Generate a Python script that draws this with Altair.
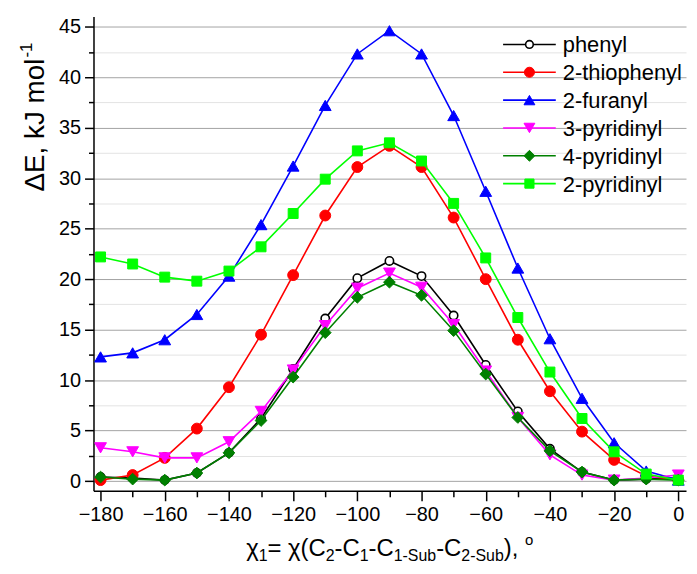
import altair as alt
import pandas as pd

# ---------------- data ----------------
angles = list(range(-180, 1, 10))
phenyl = [0.4, 0.3, 0.1, 0.8, 2.8, 6.2, 11.1, 16.1, 20.1, 21.8, 20.3, 16.4, 11.5, 6.9, 3.2, 0.9, 0.1, 0.2, 0.3]
thiophenyl = [0.1, 0.6, 2.3, 5.2, 9.3, 14.5, 20.4, 26.3, 31.1, 33.2, 31.1, 26.1, 20.0, 14.0, 8.9, 4.9, 2.1, 0.5, 0.1]
furanyl = [12.3, 12.7, 14.0, 16.5, 20.3, 25.4, 31.2, 37.2, 42.3, 44.6, 42.3, 36.2, 28.7, 21.1, 14.1, 8.2, 3.8, 1.0, 0.1]
pyridinyl3 = [3.3, 2.9, 2.3, 2.3, 3.9, 6.9, 11.0, 15.4, 19.1, 20.6, 19.2, 15.5, 10.9, 6.3, 2.6, 0.6, 0.1, 0.3, 0.6]
pyridinyl4 = [0.4, 0.2, 0.1, 0.8, 2.8, 6.0, 10.3, 14.7, 18.2, 19.7, 18.4, 14.9, 10.6, 6.3, 3.0, 0.9, 0.1, 0.2, 0.1]
pyridinyl2 = [22.2, 21.5, 20.2, 19.8, 20.8, 23.2, 26.5, 29.9, 32.7, 33.5, 31.7, 27.5, 22.1, 16.2, 10.8, 6.2, 2.9, 0.7, 0.1]

names = ["phenyl", "2-thiophenyl", "2-furanyl", "3-pyridinyl", "4-pyridinyl", "2-pyridinyl"]
values = [phenyl, thiophenyl, furanyl, pyridinyl3, pyridinyl4, pyridinyl2]
colors = ["#000000", "#ff0000", "#0000ff", "#ff00ff", "#008000", "#00ff00"]
fills = ["#ffffff", "#ff0000", "#0000ff", "#ff00ff", "#008000", "#00ff00"]
shapes = ["circle", "circle", "triangle-up", "triangle-down", "diamond", "square"]
sizes = [70, 120, 140, 140, 140, 100]

x_major = list(range(-180, 1, 20))
x_minor = list(range(-170, 1, 20))
y_major = list(range(0, 46, 5))
y_minor = [2.5 + 5 * i for i in range(9)]

FONT = "Liberation Sans"
W, H = 596, 477

xs = alt.Scale(domain=[-182.2, 2.4], nice=False, zero=False)
ys = alt.Scale(domain=[-0.96, 46.0], nice=False, zero=False)

ax_x_major = alt.Axis(values=x_major, orient="bottom", labelFontSize=20, labelFont=FONT,
                      labelColor="black", tickSize=10, tickWidth=1.5, tickColor="black",
                      domainColor="black", domainWidth=1.5, grid=False, title=None,
                      labelPadding=4, labelFlush=False, labelOverlap=False)
ax_x_minor = alt.Axis(values=x_minor, orient="bottom", labels=False, tickSize=6,
                      tickWidth=1.5, tickColor="black", domain=False, grid=False, title=None)
ax_y_major = alt.Axis(values=y_major, orient="left", labelFontSize=20, labelFont=FONT,
                      labelColor="black", tickSize=9, tickWidth=1.5, tickColor="black",
                      domainColor="black", domainWidth=1.5, grid=True, gridColor="#a3a3a3",
                      gridWidth=1, title=None, labelPadding=4, labelFlush=False,
                      labelOverlap=False)
ax_y_minor = alt.Axis(values=y_minor, orient="left", labels=False, tickSize=5,
                      tickWidth=1.5, tickColor="black", domain=False, grid=True,
                      gridColor="#e3e3e3", gridWidth=1, title=None)

layers = []
for i, (nm, vals, c, f, shp, sz) in enumerate(zip(names, values, colors, fills, shapes, sizes)):
    df = pd.DataFrame({"angle": angles, "value": vals, "series": nm})
    if i == 0:
        xa1, ya1, xa2, ya2 = ax_x_major, ax_y_major, ax_x_minor, ax_y_minor
    else:
        xa1 = ya1 = xa2 = ya2 = None
    line = alt.Chart(df).mark_line(color=c, strokeWidth=1.6).encode(
        x=alt.X("angle:Q", scale=xs, axis=xa1),
        y=alt.Y("value:Q", scale=ys, axis=ya1),
    )
    pts = alt.Chart(df).mark_point(shape=shp, filled=True, fill=f, stroke=c,
                                   strokeWidth=1.6 if i == 0 else 1, size=sz,
                                   opacity=1, fillOpacity=1).encode(
        x=alt.X("angle:Q", scale=xs, axis=xa2),
        y=alt.Y("value:Q", scale=ys, axis=ya2),
    )
    layers += [line, pts]

# ---------------- legend (manual, line + marker) ----------------
row0, row_step = 28, 28
for i, (nm, c, f, shp, sz) in enumerate(zip(names, colors, fills, shapes, sizes)):
    ld = pd.DataFrame({"series": [nm]})
    yv = row0 + i * row_step
    layers.append(alt.Chart(ld).mark_rule(color=c, strokeWidth=1.6).encode(
        x=alt.value(412), x2=alt.value(465), y=alt.value(yv)))
    layers.append(alt.Chart(ld).mark_point(shape=shp, filled=True, fill=f, stroke=c,
                                           strokeWidth=1.6 if i == 0 else 1,
                                           size=sz * 0.85, opacity=1, fillOpacity=1).encode(
        x=alt.value(438.5), y=alt.value(yv)))
    layers.append(alt.Chart(ld).mark_text(align="left", baseline="middle", fontSize=22,
                                          font=FONT, color="black").encode(
        x=alt.value(472), y=alt.value(yv + 1), text="series:N"))

# ---------------- axis titles with sub/superscripts ----------------
em = {"χ": 0.521, "=": 0.584, " ": 0.278, "(": 0.333, ")": 0.333, "C": 0.722, "-": 0.333,
      ",": 0.278, "1": 0.556, "2": 0.556, "S": 0.667, "u": 0.556, "b": 0.556, "o": 0.556,
      "Δ": 0.668, "E": 0.667, "k": 0.5, "J": 0.5, "m": 0.833, "l": 0.222}
MS, SS, PS = 24, 16, 15
x_title = [("χ", "m"), ("1", "s"), ("= χ(C", "m"), ("2", "s"), ("-C", "m"), ("1", "s"),
           ("-C", "m"), ("1-Sub", "s"), ("-C", "m"), ("2-Sub", "s"), ("), ", "m"), ("o", "p")]
fsz = {"m": MS, "s": SS, "p": PS}
dys = {"m": 0, "s": 5, "p": -11}
total = sum(sum(em[ch] for ch in t) * fsz[k] for t, k in x_title)
cx = 392 - 94 - total / 2
rows = []
for t, k in x_title:
    rows.append({"t": t, "px": cx, "py": 543 + dys[k], "fs": fsz[k]})
    cx += sum(em[ch] for ch in t) * fsz[k]
xt = pd.DataFrame(rows)
layers.append(alt.Chart(xt).mark_text(align="left", baseline="alphabetic", font=FONT,
                                      color="black").encode(
    x=alt.X("px:Q", scale=None, axis=None), y=alt.Y("py:Q", scale=None, axis=None),
    size=alt.Size("fs:Q", scale=None, legend=None), text="t:N"))

YS = 28
y_main = "ΔE, kJ mol"
y_w = sum(em[ch] for ch in y_main) * YS
yt = pd.DataFrame([
    {"t": y_main, "px": -50, "py": 176, "fs": YS},
    {"t": "-1", "px": -62, "py": 176 - y_w - 1, "fs": 17},
])
layers.append(alt.Chart(yt).mark_text(align="left", baseline="alphabetic", font=FONT,
                                      color="black", angle=270).encode(
    x=alt.X("px:Q", scale=None, axis=None), y=alt.Y("py:Q", scale=None, axis=None),
    size=alt.Size("fs:Q", scale=None, legend=None), text="t:N"))

chart = alt.layer(*layers).resolve_scale(x="independent", y="independent").properties(
    width=W, height=H,
    padding={"left": 86, "top": 7, "right": 3, "bottom": 74},
    autosize=alt.AutoSizeParams(type="none"),
    background="white",
).configure_view(stroke=None)

chart.save("out.html", embed_options={"renderer": "svg", "actions": False})
